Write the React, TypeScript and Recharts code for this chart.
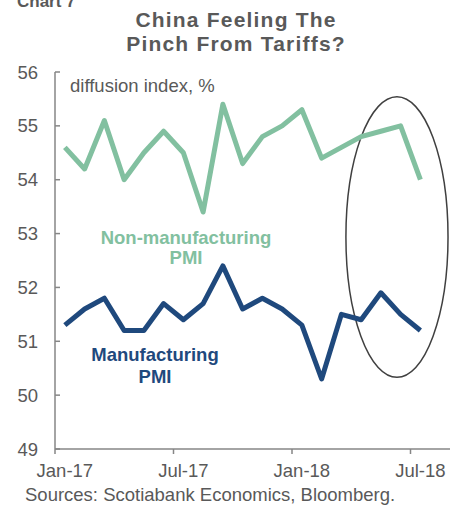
import React from "react";
import { LineChart, Line, XAxis, YAxis, ReferenceArea } from "recharts";

const months = [
  "Jan-17", "Feb-17", "Mar-17", "Apr-17", "May-17", "Jun-17", "Jul-17", "Aug-17", "Sep-17", "Oct-17",
  "Nov-17", "Dec-17", "Jan-18", "Feb-18", "Mar-18", "Apr-18", "May-18", "Jun-18", "Jul-18",
];
const nonManufacturing = [54.6, 54.2, 55.1, 54.0, 54.5, 54.9, 54.5, 53.4, 55.4, 54.3, 54.8, 55.0, 55.3, 54.4, 54.6, 54.8, 54.9, 55.0, 54.0];
const manufacturing = [51.3, 51.6, 51.8, 51.2, 51.2, 51.7, 51.4, 51.7, 52.4, 51.6, 51.8, 51.6, 51.3, 50.3, 51.5, 51.4, 51.9, 51.5, 51.2];
const yTicks = [49, 50, 51, 52, 53, 54, 55, 56];
const xTicks = [0, 6, 12, 18];

const data = months.map((m, i) => ({ i, month: m, nonMfg: nonManufacturing[i], mfg: manufacturing[i] }));

const GREY = "#595959";
const AXIS = "#868686";
const GREEN = "#82c0a0";
const NAVY = "#1f497d";
const FONT = "'Liberation Sans', Arial, sans-serif";

const W = 456;
const H = 506;
const margin = { top: 72, right: 6, bottom: 27, left: 0 };
const yAxisWidth = 55;
const halfBand = (W - margin.left - margin.right - yAxisWidth) / 20 / 2;

function YTick(props: any) {
  const { y, payload } = props;
  const x = margin.left + yAxisWidth;
  return (
    <g>
      <line x1={x} x2={x + 5} y1={y} y2={y} stroke={AXIS} strokeWidth={1.5} />
      <text x={x - 17} y={y} dy={6.5} textAnchor="end" fill={GREY} fontSize={18.5} fontFamily={FONT}>
        {payload.value}
      </text>
    </g>
  );
}

function XTick(props: any) {
  const { x, y, payload } = props;
  return (
    <g>
      <line x1={x - halfBand} x2={x - halfBand} y1={y} y2={y + 5} stroke={AXIS} strokeWidth={1.5} />
      <text x={x} y={y} dy={28} textAnchor="middle" fill={GREY} fontSize={18.5} fontFamily={FONT}>
        {months[payload.value]}
      </text>
    </g>
  );
}

function Ellipse(props: any) {
  const { x, y, width, height } = props;
  return (
    <ellipse
      cx={x + width / 2}
      cy={y + height / 2}
      rx={width / 2}
      ry={height / 2}
      fill="none"
      stroke="#404040"
      strokeWidth={1.5}
    />
  );
}

const abs = (left: number, top: number, extra: React.CSSProperties = {}): React.CSSProperties => ({
  position: "absolute",
  left,
  top,
  fontFamily: FONT,
  whiteSpace: "nowrap",
  lineHeight: 1,
  ...extra,
});

export default function App() {
  return (
    <div style={{ position: "absolute", left: 0, top: 0, width: W, height: H, background: "#fff", overflow: "hidden" }}>
      <div style={abs(17, -7, { fontSize: 17, fontWeight: "bold", color: GREY })}>Chart 7</div>
      <div
        style={abs(86, 8, {
          width: 300,
          textAlign: "center",
          fontSize: 21,
          fontWeight: "bold",
          color: GREY,
          lineHeight: "23.5px",
          letterSpacing: 1.2,
        })}
      >
        China Feeling The
        <br />
        Pinch From Tariffs?
      </div>
      <LineChart width={W} height={H} data={data} margin={margin}>
        <XAxis
          dataKey="i"
          type="number"
          domain={[-0.5, 19.5]}
          ticks={xTicks}
          tick={<XTick />}
          tickLine={false}
          tickSize={0}
          tickMargin={0}
          axisLine={{ stroke: AXIS, strokeWidth: 1.5 }}
          interval={0}
        />
        <YAxis
          domain={[49, 56]}
          ticks={yTicks}
          width={yAxisWidth}
          tick={<YTick />}
          tickLine={false}
          tickSize={0}
          tickMargin={0}
          axisLine={{ stroke: AXIS, strokeWidth: 1.5 }}
          interval={0}
        />
        <ReferenceArea
          x1={14.23}
          x2={19.4}
          y1={50.33}
          y2={55.54}
          ifOverflow="visible"
          shape={<Ellipse />}
        />
        <Line
          dataKey="nonMfg"
          stroke={GREEN}
          strokeWidth={5}
          dot={false}
          type="linear"
          strokeLinejoin="round"
          isAnimationActive={false}
        />
        <Line
          dataKey="mfg"
          stroke={NAVY}
          strokeWidth={5}
          dot={false}
          type="linear"
          strokeLinejoin="round"
          isAnimationActive={false}
        />
      </LineChart>
      <div style={abs(70, 77, { fontSize: 18.5, color: GREY })}>diffusion index, %</div>
      <div style={abs(36, 228, { width: 300, textAlign: "center", fontSize: 18.5, fontWeight: "bold", color: GREEN, lineHeight: "20px" })}>
        Non-manufacturing
        <br />
        PMI
      </div>
      <div style={abs(5, 344, { width: 300, textAlign: "center", fontSize: 18.5, fontWeight: "bold", color: NAVY, lineHeight: "22px" })}>
        Manufacturing
        <br />
        PMI
      </div>
      <div style={abs(25, 486, { fontSize: 18.5, color: GREY })}>Sources: Scotiabank Economics, Bloomberg.</div>
    </div>
  );
}
